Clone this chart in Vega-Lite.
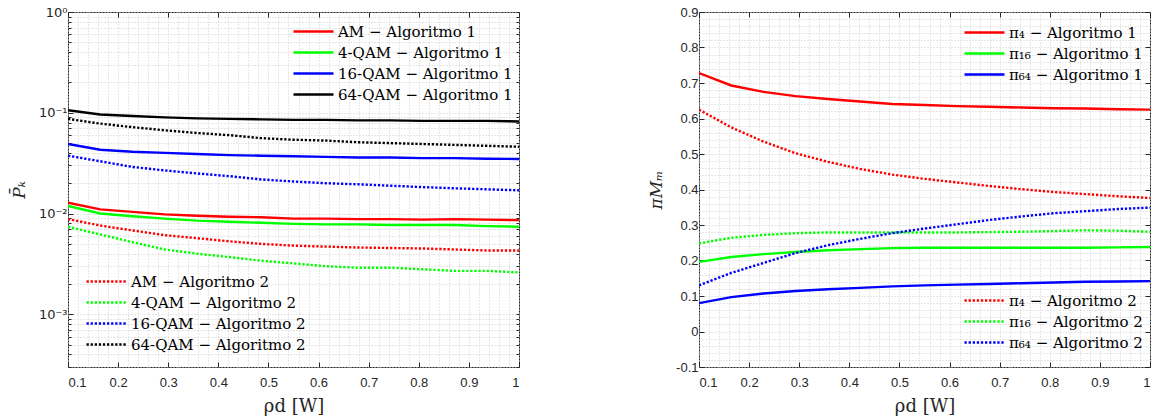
{
  "$schema": "https://vega.github.io/schema/vega-lite/v6.json",
  "background": "white",
  "padding": {"left": 9, "top": 5, "right": 0, "bottom": 5},
  "spacing": 127,
  "config": {
    "view": {"stroke": "#262626", "strokeWidth": 1},
    "axis": {
      "labelFont": "Liberation Sans", "labelFontSize": 13, "labelColor": "#262626",
      "titleFont": "DejaVu Serif", "titleFontSize": 17, "titleFontWeight": "normal", "titleColor": "#262626",
      "gridColor": "#cfcfcf", "gridDash": [1, 2], "gridWidth": 1,
      "tickColor": "#262626", "domainColor": "#262626"
    },
    "legend": {
      "labelFont": "DejaVu Serif", "labelFontSize": 15, "labelColor": "#000000", "labelLimit": 0,
      "symbolType": "M-5,0L5,0", "symbolSize": 64, "symbolStrokeWidth": 2.3,
      "symbolOffset": 16, "labelOffset": 17, "rowPadding": 5, "padding": 0, "title": null,
      "orient": "none"
    }
  },
  "datasets": {
    "pk": [
      {"x": 0.1, "y": 0.0128, "alg": 1, "label": "AM − Algoritmo 1"},
      {"x": 0.1643, "y": 0.0110, "alg": 1, "label": "AM − Algoritmo 1"},
      {"x": 0.2286, "y": 0.0104, "alg": 1, "label": "AM − Algoritmo 1"},
      {"x": 0.2929, "y": 0.0098, "alg": 1, "label": "AM − Algoritmo 1"},
      {"x": 0.3571, "y": 0.0095, "alg": 1, "label": "AM − Algoritmo 1"},
      {"x": 0.4214, "y": 0.0093, "alg": 1, "label": "AM − Algoritmo 1"},
      {"x": 0.4857, "y": 0.0092, "alg": 1, "label": "AM − Algoritmo 1"},
      {"x": 0.55, "y": 0.0089, "alg": 1, "label": "AM − Algoritmo 1"},
      {"x": 0.6143, "y": 0.0089, "alg": 1, "label": "AM − Algoritmo 1"},
      {"x": 0.6786, "y": 0.0088, "alg": 1, "label": "AM − Algoritmo 1"},
      {"x": 0.7429, "y": 0.0088, "alg": 1, "label": "AM − Algoritmo 1"},
      {"x": 0.8071, "y": 0.0087, "alg": 1, "label": "AM − Algoritmo 1"},
      {"x": 0.8714, "y": 0.0088, "alg": 1, "label": "AM − Algoritmo 1"},
      {"x": 0.9357, "y": 0.0087, "alg": 1, "label": "AM − Algoritmo 1"},
      {"x": 1.0, "y": 0.0086, "alg": 1, "label": "AM − Algoritmo 1"},

      {"x": 0.1, "y": 0.0119, "alg": 1, "label": "4-QAM − Algoritmo 1"},
      {"x": 0.1643, "y": 0.0100, "alg": 1, "label": "4-QAM − Algoritmo 1"},
      {"x": 0.2286, "y": 0.0094, "alg": 1, "label": "4-QAM − Algoritmo 1"},
      {"x": 0.2929, "y": 0.0089, "alg": 1, "label": "4-QAM − Algoritmo 1"},
      {"x": 0.3571, "y": 0.0085, "alg": 1, "label": "4-QAM − Algoritmo 1"},
      {"x": 0.4214, "y": 0.0083, "alg": 1, "label": "4-QAM − Algoritmo 1"},
      {"x": 0.4857, "y": 0.0081, "alg": 1, "label": "4-QAM − Algoritmo 1"},
      {"x": 0.55, "y": 0.0079, "alg": 1, "label": "4-QAM − Algoritmo 1"},
      {"x": 0.6143, "y": 0.0078, "alg": 1, "label": "4-QAM − Algoritmo 1"},
      {"x": 0.6786, "y": 0.0078, "alg": 1, "label": "4-QAM − Algoritmo 1"},
      {"x": 0.7429, "y": 0.0077, "alg": 1, "label": "4-QAM − Algoritmo 1"},
      {"x": 0.8071, "y": 0.0077, "alg": 1, "label": "4-QAM − Algoritmo 1"},
      {"x": 0.8714, "y": 0.0077, "alg": 1, "label": "4-QAM − Algoritmo 1"},
      {"x": 0.9357, "y": 0.0075, "alg": 1, "label": "4-QAM − Algoritmo 1"},
      {"x": 1.0, "y": 0.0074, "alg": 1, "label": "4-QAM − Algoritmo 1"},

      {"x": 0.1, "y": 0.049, "alg": 1, "label": "16-QAM − Algoritmo 1"},
      {"x": 0.1643, "y": 0.043, "alg": 1, "label": "16-QAM − Algoritmo 1"},
      {"x": 0.2286, "y": 0.041, "alg": 1, "label": "16-QAM − Algoritmo 1"},
      {"x": 0.2929, "y": 0.040, "alg": 1, "label": "16-QAM − Algoritmo 1"},
      {"x": 0.3571, "y": 0.039, "alg": 1, "label": "16-QAM − Algoritmo 1"},
      {"x": 0.4214, "y": 0.038, "alg": 1, "label": "16-QAM − Algoritmo 1"},
      {"x": 0.4857, "y": 0.0375, "alg": 1, "label": "16-QAM − Algoritmo 1"},
      {"x": 0.55, "y": 0.037, "alg": 1, "label": "16-QAM − Algoritmo 1"},
      {"x": 0.6143, "y": 0.0365, "alg": 1, "label": "16-QAM − Algoritmo 1"},
      {"x": 0.6786, "y": 0.036, "alg": 1, "label": "16-QAM − Algoritmo 1"},
      {"x": 0.7429, "y": 0.036, "alg": 1, "label": "16-QAM − Algoritmo 1"},
      {"x": 0.8071, "y": 0.0355, "alg": 1, "label": "16-QAM − Algoritmo 1"},
      {"x": 0.8714, "y": 0.0355, "alg": 1, "label": "16-QAM − Algoritmo 1"},
      {"x": 0.9357, "y": 0.035, "alg": 1, "label": "16-QAM − Algoritmo 1"},
      {"x": 1.0, "y": 0.0348, "alg": 1, "label": "16-QAM − Algoritmo 1"},

      {"x": 0.1, "y": 0.106, "alg": 1, "label": "64-QAM − Algoritmo 1"},
      {"x": 0.1643, "y": 0.096, "alg": 1, "label": "64-QAM − Algoritmo 1"},
      {"x": 0.2286, "y": 0.093, "alg": 1, "label": "64-QAM − Algoritmo 1"},
      {"x": 0.2929, "y": 0.090, "alg": 1, "label": "64-QAM − Algoritmo 1"},
      {"x": 0.3571, "y": 0.088, "alg": 1, "label": "64-QAM − Algoritmo 1"},
      {"x": 0.4214, "y": 0.087, "alg": 1, "label": "64-QAM − Algoritmo 1"},
      {"x": 0.4857, "y": 0.086, "alg": 1, "label": "64-QAM − Algoritmo 1"},
      {"x": 0.55, "y": 0.085, "alg": 1, "label": "64-QAM − Algoritmo 1"},
      {"x": 0.6143, "y": 0.085, "alg": 1, "label": "64-QAM − Algoritmo 1"},
      {"x": 0.6786, "y": 0.084, "alg": 1, "label": "64-QAM − Algoritmo 1"},
      {"x": 0.7429, "y": 0.084, "alg": 1, "label": "64-QAM − Algoritmo 1"},
      {"x": 0.8071, "y": 0.083, "alg": 1, "label": "64-QAM − Algoritmo 1"},
      {"x": 0.8714, "y": 0.083, "alg": 1, "label": "64-QAM − Algoritmo 1"},
      {"x": 0.9357, "y": 0.083, "alg": 1, "label": "64-QAM − Algoritmo 1"},
      {"x": 1.0, "y": 0.082, "alg": 1, "label": "64-QAM − Algoritmo 1"},

      {"x": 0.1, "y": 0.0088, "alg": 2, "label": "AM − Algoritmo 2"},
      {"x": 0.1643, "y": 0.0076, "alg": 2, "label": "AM − Algoritmo 2"},
      {"x": 0.2286, "y": 0.0068, "alg": 2, "label": "AM − Algoritmo 2"},
      {"x": 0.2929, "y": 0.0061, "alg": 2, "label": "AM − Algoritmo 2"},
      {"x": 0.3571, "y": 0.0057, "alg": 2, "label": "AM − Algoritmo 2"},
      {"x": 0.4214, "y": 0.0053, "alg": 2, "label": "AM − Algoritmo 2"},
      {"x": 0.4857, "y": 0.0050, "alg": 2, "label": "AM − Algoritmo 2"},
      {"x": 0.55, "y": 0.0048, "alg": 2, "label": "AM − Algoritmo 2"},
      {"x": 0.6143, "y": 0.0047, "alg": 2, "label": "AM − Algoritmo 2"},
      {"x": 0.6786, "y": 0.0046, "alg": 2, "label": "AM − Algoritmo 2"},
      {"x": 0.7429, "y": 0.00455, "alg": 2, "label": "AM − Algoritmo 2"},
      {"x": 0.8071, "y": 0.0045, "alg": 2, "label": "AM − Algoritmo 2"},
      {"x": 0.8714, "y": 0.0044, "alg": 2, "label": "AM − Algoritmo 2"},
      {"x": 0.9357, "y": 0.0043, "alg": 2, "label": "AM − Algoritmo 2"},
      {"x": 1.0, "y": 0.0043, "alg": 2, "label": "AM − Algoritmo 2"},

      {"x": 0.1, "y": 0.0074, "alg": 2, "label": "4-QAM − Algoritmo 2"},
      {"x": 0.1643, "y": 0.0062, "alg": 2, "label": "4-QAM − Algoritmo 2"},
      {"x": 0.2286, "y": 0.0052, "alg": 2, "label": "4-QAM − Algoritmo 2"},
      {"x": 0.2929, "y": 0.0044, "alg": 2, "label": "4-QAM − Algoritmo 2"},
      {"x": 0.3571, "y": 0.0040, "alg": 2, "label": "4-QAM − Algoritmo 2"},
      {"x": 0.4214, "y": 0.0037, "alg": 2, "label": "4-QAM − Algoritmo 2"},
      {"x": 0.4857, "y": 0.0034, "alg": 2, "label": "4-QAM − Algoritmo 2"},
      {"x": 0.55, "y": 0.0032, "alg": 2, "label": "4-QAM − Algoritmo 2"},
      {"x": 0.6143, "y": 0.0030, "alg": 2, "label": "4-QAM − Algoritmo 2"},
      {"x": 0.6786, "y": 0.0029, "alg": 2, "label": "4-QAM − Algoritmo 2"},
      {"x": 0.7429, "y": 0.0029, "alg": 2, "label": "4-QAM − Algoritmo 2"},
      {"x": 0.8071, "y": 0.0028, "alg": 2, "label": "4-QAM − Algoritmo 2"},
      {"x": 0.8714, "y": 0.0027, "alg": 2, "label": "4-QAM − Algoritmo 2"},
      {"x": 0.9357, "y": 0.0027, "alg": 2, "label": "4-QAM − Algoritmo 2"},
      {"x": 1.0, "y": 0.0026, "alg": 2, "label": "4-QAM − Algoritmo 2"},

      {"x": 0.1, "y": 0.0375, "alg": 2, "label": "16-QAM − Algoritmo 2"},
      {"x": 0.1643, "y": 0.033, "alg": 2, "label": "16-QAM − Algoritmo 2"},
      {"x": 0.2286, "y": 0.029, "alg": 2, "label": "16-QAM − Algoritmo 2"},
      {"x": 0.2929, "y": 0.0268, "alg": 2, "label": "16-QAM − Algoritmo 2"},
      {"x": 0.3571, "y": 0.025, "alg": 2, "label": "16-QAM − Algoritmo 2"},
      {"x": 0.4214, "y": 0.0235, "alg": 2, "label": "16-QAM − Algoritmo 2"},
      {"x": 0.4857, "y": 0.0218, "alg": 2, "label": "16-QAM − Algoritmo 2"},
      {"x": 0.55, "y": 0.0208, "alg": 2, "label": "16-QAM − Algoritmo 2"},
      {"x": 0.6143, "y": 0.020, "alg": 2, "label": "16-QAM − Algoritmo 2"},
      {"x": 0.6786, "y": 0.0195, "alg": 2, "label": "16-QAM − Algoritmo 2"},
      {"x": 0.7429, "y": 0.0189, "alg": 2, "label": "16-QAM − Algoritmo 2"},
      {"x": 0.8071, "y": 0.0183, "alg": 2, "label": "16-QAM − Algoritmo 2"},
      {"x": 0.8714, "y": 0.0178, "alg": 2, "label": "16-QAM − Algoritmo 2"},
      {"x": 0.9357, "y": 0.0174, "alg": 2, "label": "16-QAM − Algoritmo 2"},
      {"x": 1.0, "y": 0.0170, "alg": 2, "label": "16-QAM − Algoritmo 2"},

      {"x": 0.1, "y": 0.087, "alg": 2, "label": "64-QAM − Algoritmo 2"},
      {"x": 0.1643, "y": 0.078, "alg": 2, "label": "64-QAM − Algoritmo 2"},
      {"x": 0.2286, "y": 0.072, "alg": 2, "label": "64-QAM − Algoritmo 2"},
      {"x": 0.2929, "y": 0.067, "alg": 2, "label": "64-QAM − Algoritmo 2"},
      {"x": 0.3571, "y": 0.063, "alg": 2, "label": "64-QAM − Algoritmo 2"},
      {"x": 0.4214, "y": 0.060, "alg": 2, "label": "64-QAM − Algoritmo 2"},
      {"x": 0.4857, "y": 0.056, "alg": 2, "label": "64-QAM − Algoritmo 2"},
      {"x": 0.55, "y": 0.054, "alg": 2, "label": "64-QAM − Algoritmo 2"},
      {"x": 0.6143, "y": 0.053, "alg": 2, "label": "64-QAM − Algoritmo 2"},
      {"x": 0.6786, "y": 0.051, "alg": 2, "label": "64-QAM − Algoritmo 2"},
      {"x": 0.7429, "y": 0.050, "alg": 2, "label": "64-QAM − Algoritmo 2"},
      {"x": 0.8071, "y": 0.049, "alg": 2, "label": "64-QAM − Algoritmo 2"},
      {"x": 0.8714, "y": 0.048, "alg": 2, "label": "64-QAM − Algoritmo 2"},
      {"x": 0.9357, "y": 0.047, "alg": 2, "label": "64-QAM − Algoritmo 2"},
      {"x": 1.0, "y": 0.046, "alg": 2, "label": "64-QAM − Algoritmo 2"}
    ],
    "pi": [
      {"x": 0.1, "y": 0.728, "alg": 1, "label": "π₄ − Algoritmo 1"},
      {"x": 0.1643, "y": 0.693, "alg": 1, "label": "π₄ − Algoritmo 1"},
      {"x": 0.2286, "y": 0.675, "alg": 1, "label": "π₄ − Algoritmo 1"},
      {"x": 0.2929, "y": 0.663, "alg": 1, "label": "π₄ − Algoritmo 1"},
      {"x": 0.3571, "y": 0.655, "alg": 1, "label": "π₄ − Algoritmo 1"},
      {"x": 0.4214, "y": 0.648, "alg": 1, "label": "π₄ − Algoritmo 1"},
      {"x": 0.4857, "y": 0.641, "alg": 1, "label": "π₄ − Algoritmo 1"},
      {"x": 0.55, "y": 0.638, "alg": 1, "label": "π₄ − Algoritmo 1"},
      {"x": 0.6143, "y": 0.635, "alg": 1, "label": "π₄ − Algoritmo 1"},
      {"x": 0.6786, "y": 0.633, "alg": 1, "label": "π₄ − Algoritmo 1"},
      {"x": 0.7429, "y": 0.631, "alg": 1, "label": "π₄ − Algoritmo 1"},
      {"x": 0.8071, "y": 0.629, "alg": 1, "label": "π₄ − Algoritmo 1"},
      {"x": 0.8714, "y": 0.628, "alg": 1, "label": "π₄ − Algoritmo 1"},
      {"x": 0.9357, "y": 0.626, "alg": 1, "label": "π₄ − Algoritmo 1"},
      {"x": 1.0, "y": 0.625, "alg": 1, "label": "π₄ − Algoritmo 1"},

      {"x": 0.1, "y": 0.196, "alg": 1, "label": "π₁₆ − Algoritmo 1"},
      {"x": 0.1643, "y": 0.210, "alg": 1, "label": "π₁₆ − Algoritmo 1"},
      {"x": 0.2286, "y": 0.218, "alg": 1, "label": "π₁₆ − Algoritmo 1"},
      {"x": 0.2929, "y": 0.224, "alg": 1, "label": "π₁₆ − Algoritmo 1"},
      {"x": 0.3571, "y": 0.229, "alg": 1, "label": "π₁₆ − Algoritmo 1"},
      {"x": 0.4214, "y": 0.232, "alg": 1, "label": "π₁₆ − Algoritmo 1"},
      {"x": 0.4857, "y": 0.235, "alg": 1, "label": "π₁₆ − Algoritmo 1"},
      {"x": 0.55, "y": 0.236, "alg": 1, "label": "π₁₆ − Algoritmo 1"},
      {"x": 0.6143, "y": 0.236, "alg": 1, "label": "π₁₆ − Algoritmo 1"},
      {"x": 0.6786, "y": 0.236, "alg": 1, "label": "π₁₆ − Algoritmo 1"},
      {"x": 0.7429, "y": 0.236, "alg": 1, "label": "π₁₆ − Algoritmo 1"},
      {"x": 0.8071, "y": 0.236, "alg": 1, "label": "π₁₆ − Algoritmo 1"},
      {"x": 0.8714, "y": 0.236, "alg": 1, "label": "π₁₆ − Algoritmo 1"},
      {"x": 0.9357, "y": 0.237, "alg": 1, "label": "π₁₆ − Algoritmo 1"},
      {"x": 1.0, "y": 0.238, "alg": 1, "label": "π₁₆ − Algoritmo 1"},

      {"x": 0.1, "y": 0.080, "alg": 1, "label": "π₆₄ − Algoritmo 1"},
      {"x": 0.1643, "y": 0.097, "alg": 1, "label": "π₆₄ − Algoritmo 1"},
      {"x": 0.2286, "y": 0.107, "alg": 1, "label": "π₆₄ − Algoritmo 1"},
      {"x": 0.2929, "y": 0.114, "alg": 1, "label": "π₆₄ − Algoritmo 1"},
      {"x": 0.3571, "y": 0.119, "alg": 1, "label": "π₆₄ − Algoritmo 1"},
      {"x": 0.4214, "y": 0.123, "alg": 1, "label": "π₆₄ − Algoritmo 1"},
      {"x": 0.4857, "y": 0.127, "alg": 1, "label": "π₆₄ − Algoritmo 1"},
      {"x": 0.55, "y": 0.130, "alg": 1, "label": "π₆₄ − Algoritmo 1"},
      {"x": 0.6143, "y": 0.132, "alg": 1, "label": "π₆₄ − Algoritmo 1"},
      {"x": 0.6786, "y": 0.134, "alg": 1, "label": "π₆₄ − Algoritmo 1"},
      {"x": 0.7429, "y": 0.136, "alg": 1, "label": "π₆₄ − Algoritmo 1"},
      {"x": 0.8071, "y": 0.138, "alg": 1, "label": "π₆₄ − Algoritmo 1"},
      {"x": 0.8714, "y": 0.140, "alg": 1, "label": "π₆₄ − Algoritmo 1"},
      {"x": 0.9357, "y": 0.141, "alg": 1, "label": "π₆₄ − Algoritmo 1"},
      {"x": 1.0, "y": 0.142, "alg": 1, "label": "π₆₄ − Algoritmo 1"},

      {"x": 0.1, "y": 0.625, "alg": 2, "label": "π₄ − Algoritmo 2"},
      {"x": 0.1643, "y": 0.575, "alg": 2, "label": "π₄ − Algoritmo 2"},
      {"x": 0.2286, "y": 0.535, "alg": 2, "label": "π₄ − Algoritmo 2"},
      {"x": 0.2929, "y": 0.502, "alg": 2, "label": "π₄ − Algoritmo 2"},
      {"x": 0.3571, "y": 0.478, "alg": 2, "label": "π₄ − Algoritmo 2"},
      {"x": 0.4214, "y": 0.458, "alg": 2, "label": "π₄ − Algoritmo 2"},
      {"x": 0.4857, "y": 0.442, "alg": 2, "label": "π₄ − Algoritmo 2"},
      {"x": 0.55, "y": 0.430, "alg": 2, "label": "π₄ − Algoritmo 2"},
      {"x": 0.6143, "y": 0.420, "alg": 2, "label": "π₄ − Algoritmo 2"},
      {"x": 0.6786, "y": 0.410, "alg": 2, "label": "π₄ − Algoritmo 2"},
      {"x": 0.7429, "y": 0.401, "alg": 2, "label": "π₄ − Algoritmo 2"},
      {"x": 0.8071, "y": 0.393, "alg": 2, "label": "π₄ − Algoritmo 2"},
      {"x": 0.8714, "y": 0.387, "alg": 2, "label": "π₄ − Algoritmo 2"},
      {"x": 0.9357, "y": 0.381, "alg": 2, "label": "π₄ − Algoritmo 2"},
      {"x": 1.0, "y": 0.376, "alg": 2, "label": "π₄ − Algoritmo 2"},

      {"x": 0.1, "y": 0.248, "alg": 2, "label": "π₁₆ − Algoritmo 2"},
      {"x": 0.1643, "y": 0.264, "alg": 2, "label": "π₁₆ − Algoritmo 2"},
      {"x": 0.2286, "y": 0.272, "alg": 2, "label": "π₁₆ − Algoritmo 2"},
      {"x": 0.2929, "y": 0.277, "alg": 2, "label": "π₁₆ − Algoritmo 2"},
      {"x": 0.3571, "y": 0.279, "alg": 2, "label": "π₁₆ − Algoritmo 2"},
      {"x": 0.4214, "y": 0.279, "alg": 2, "label": "π₁₆ − Algoritmo 2"},
      {"x": 0.4857, "y": 0.279, "alg": 2, "label": "π₁₆ − Algoritmo 2"},
      {"x": 0.55, "y": 0.279, "alg": 2, "label": "π₁₆ − Algoritmo 2"},
      {"x": 0.6143, "y": 0.279, "alg": 2, "label": "π₁₆ − Algoritmo 2"},
      {"x": 0.6786, "y": 0.280, "alg": 2, "label": "π₁₆ − Algoritmo 2"},
      {"x": 0.7429, "y": 0.281, "alg": 2, "label": "π₁₆ − Algoritmo 2"},
      {"x": 0.8071, "y": 0.283, "alg": 2, "label": "π₁₆ − Algoritmo 2"},
      {"x": 0.8714, "y": 0.285, "alg": 2, "label": "π₁₆ − Algoritmo 2"},
      {"x": 0.9357, "y": 0.284, "alg": 2, "label": "π₁₆ − Algoritmo 2"},
      {"x": 1.0, "y": 0.281, "alg": 2, "label": "π₁₆ − Algoritmo 2"},

      {"x": 0.1, "y": 0.130, "alg": 2, "label": "π₆₄ − Algoritmo 2"},
      {"x": 0.1643, "y": 0.165, "alg": 2, "label": "π₆₄ − Algoritmo 2"},
      {"x": 0.2286, "y": 0.193, "alg": 2, "label": "π₆₄ − Algoritmo 2"},
      {"x": 0.2929, "y": 0.221, "alg": 2, "label": "π₆₄ − Algoritmo 2"},
      {"x": 0.3571, "y": 0.243, "alg": 2, "label": "π₆₄ − Algoritmo 2"},
      {"x": 0.4214, "y": 0.261, "alg": 2, "label": "π₆₄ − Algoritmo 2"},
      {"x": 0.4857, "y": 0.277, "alg": 2, "label": "π₆₄ − Algoritmo 2"},
      {"x": 0.55, "y": 0.290, "alg": 2, "label": "π₆₄ − Algoritmo 2"},
      {"x": 0.6143, "y": 0.302, "alg": 2, "label": "π₆₄ − Algoritmo 2"},
      {"x": 0.6786, "y": 0.314, "alg": 2, "label": "π₆₄ − Algoritmo 2"},
      {"x": 0.7429, "y": 0.324, "alg": 2, "label": "π₆₄ − Algoritmo 2"},
      {"x": 0.8071, "y": 0.333, "alg": 2, "label": "π₆₄ − Algoritmo 2"},
      {"x": 0.8714, "y": 0.339, "alg": 2, "label": "π₆₄ − Algoritmo 2"},
      {"x": 0.9357, "y": 0.345, "alg": 2, "label": "π₆₄ − Algoritmo 2"},
      {"x": 1.0, "y": 0.349, "alg": 2, "label": "π₆₄ − Algoritmo 2"}
    ]
  },
  "hconcat": [
    {
      "width": 451,
      "height": 355,
      "data": {"name": "pk"},
      "layer": [
        {
          "transform": [{"filter": "datum.alg == 1"}],
          "mark": {"type": "line", "strokeWidth": 2.4, "clip": true},
          "encoding": {
            "x": {"field": "x", "type": "quantitative", "scale": {"domain": [0.1, 1], "nice": false, "zero": false},
              "axis": {"orient": "bottom", "values": [0.1,0.12,0.14,0.16,0.18,0.2,0.22,0.24,0.26,0.28,0.3,0.32,0.34,0.36,0.38,0.4,0.42,0.44,0.46,0.48,0.5,0.52,0.54,0.56,0.58,0.6,0.62,0.64,0.66,0.68,0.7,0.72,0.74,0.76,0.78,0.8,0.82,0.84,0.86,0.88,0.9,0.92,0.94,0.96,0.98,1],
                "labels": false, "ticks": false, "domain": false, "grid": true, "title": null}},
            "y": {"field": "y", "type": "quantitative", "scale": {"type": "log", "domain": [0.0003, 1], "nice": false},
              "axis": {"orient": "left", "values": [0.0003,0.0004,0.0005,0.0006,0.0007,0.0008,0.0009,0.001,0.002,0.003,0.004,0.005,0.006,0.007,0.008,0.009,0.01,0.02,0.03,0.04,0.05,0.06,0.07,0.08,0.09,0.1,0.2,0.3,0.4,0.5,0.6,0.7,0.8,0.9,1],
                "labels": false, "ticks": true, "tickSize": -3, "domain": false, "grid": true, "title": null}},
            "color": {"field": "label", "type": "nominal",
              "scale": {"domain": ["AM − Algoritmo 1", "4-QAM − Algoritmo 1", "16-QAM − Algoritmo 1", "64-QAM − Algoritmo 1"], "range": ["#ff0000", "#00ff00", "#0000ff", "#000000"]},
              "legend": {"legendX": 222, "legendY": 12}}
          }
        },
        {
          "transform": [{"filter": "datum.alg == 2"}],
          "mark": {"type": "line", "strokeWidth": 2.4, "strokeDash": [2.3, 1.8], "clip": true},
          "encoding": {
            "x": {"field": "x", "type": "quantitative", "scale": {"domain": [0.1, 1], "nice": false, "zero": false},
              "axis": {"orient": "bottom", "values": [0.1,0.2,0.3,0.4,0.5,0.6,0.7,0.8,0.9,1], "labelExpr": "format(datum.value, '.1~f')",
                "ticks": true, "tickSize": -5, "labelPadding": 14, "domain": false, "grid": false, "title": "ρd [W]", "titleFontSize": 18, "titlePadding": 8}},
            "y": {"field": "y", "type": "quantitative", "scale": {"type": "log", "domain": [0.0003, 1], "nice": false},
              "axis": {"orient": "left", "values": [0.001, 0.01, 0.1, 1],
                "labelExpr": "datum.value >= 1 ? '10⁰' : datum.value >= 0.1 ? '10⁻¹' : datum.value >= 0.01 ? '10⁻²' : '10⁻³'",
                "labelFont": "DejaVu Sans",
                "ticks": true, "tickSize": -5, "labelPadding": 6, "domain": false, "grid": false, "title": "P̄ₖ", "titleFontStyle": "italic", "titlePadding": 10}},
            "color": {"field": "label", "type": "nominal",
              "scale": {"domain": ["AM − Algoritmo 2", "4-QAM − Algoritmo 2", "16-QAM − Algoritmo 2", "64-QAM − Algoritmo 2"], "range": ["#ff0000", "#00ff00", "#0000ff", "#000000"]},
              "legend": {"legendX": 15, "legendY": 262, "symbolDash": [2.3, 1.8]}}
          }
        },
        {
          "mark": {"type": "line", "opacity": 0},
          "encoding": {
            "x": {"field": "x", "type": "quantitative", "scale": {"domain": [0.1, 1], "nice": false, "zero": false},
              "axis": {"orient": "top", "values": [0.1,0.2,0.3,0.4,0.5,0.6,0.7,0.8,0.9,1], "labels": false, "ticks": true, "tickSize": -5, "domain": false, "grid": false, "title": null}},
            "y": {"field": "y", "type": "quantitative", "scale": {"type": "log", "domain": [0.0003, 1], "nice": false},
              "axis": {"orient": "right", "values": [0.0003,0.0004,0.0005,0.0006,0.0007,0.0008,0.0009,0.001,0.002,0.003,0.004,0.005,0.006,0.007,0.008,0.009,0.01,0.02,0.03,0.04,0.05,0.06,0.07,0.08,0.09,0.1,0.2,0.3,0.4,0.5,0.6,0.7,0.8,0.9,1],
                "labels": false, "ticks": true, "tickSize": -3, "domain": false, "grid": false, "title": null}},
            "detail": {"field": "label"}
          }
        }
      ],
      "resolve": {"scale": {"color": "independent"}, "axis": {"x": "independent", "y": "independent"}}
    },
    {
      "width": 451,
      "height": 355,
      "data": {"name": "pi"},
      "layer": [
        {
          "transform": [{"filter": "datum.alg == 1"}],
          "mark": {"type": "line", "strokeWidth": 2.4, "clip": true},
          "encoding": {
            "x": {"field": "x", "type": "quantitative", "scale": {"domain": [0.1, 1], "nice": false, "zero": false},
              "axis": {"orient": "bottom", "values": [0.1,0.12,0.14,0.16,0.18,0.2,0.22,0.24,0.26,0.28,0.3,0.32,0.34,0.36,0.38,0.4,0.42,0.44,0.46,0.48,0.5,0.52,0.54,0.56,0.58,0.6,0.62,0.64,0.66,0.68,0.7,0.72,0.74,0.76,0.78,0.8,0.82,0.84,0.86,0.88,0.9,0.92,0.94,0.96,0.98,1],
                "labels": false, "ticks": false, "domain": false, "grid": true, "title": null}},
            "y": {"field": "y", "type": "quantitative", "scale": {"domain": [-0.1, 0.9], "nice": false, "zero": false},
              "axis": {"orient": "left", "values": [-0.1,-0.08,-0.06,-0.04,-0.02,0,0.02,0.04,0.06,0.08,0.1,0.12,0.14,0.16,0.18,0.2,0.22,0.24,0.26,0.28,0.3,0.32,0.34,0.36,0.38,0.4,0.42,0.44,0.46,0.48,0.5,0.52,0.54,0.56,0.58,0.6,0.62,0.64,0.66,0.68,0.7,0.72,0.74,0.76,0.78,0.8,0.82,0.84,0.86,0.88,0.9],
                "labels": false, "ticks": false, "domain": false, "grid": true, "title": null}},
            "color": {"field": "label", "type": "nominal",
              "scale": {"domain": ["π₄ − Algoritmo 1", "π₁₆ − Algoritmo 1", "π₆₄ − Algoritmo 1"], "range": ["#ff0000", "#00ff00", "#0000ff"]},
              "legend": {"legendX": 262, "legendY": 13}}
          }
        },
        {
          "transform": [{"filter": "datum.alg == 2"}],
          "mark": {"type": "line", "strokeWidth": 2.4, "strokeDash": [2.3, 1.8], "clip": true},
          "encoding": {
            "x": {"field": "x", "type": "quantitative", "scale": {"domain": [0.1, 1], "nice": false, "zero": false},
              "axis": {"orient": "bottom", "values": [0.1,0.2,0.3,0.4,0.5,0.6,0.7,0.8,0.9,1], "labelExpr": "format(datum.value, '.1~f')",
                "ticks": true, "tickSize": -5, "labelPadding": 14, "domain": false, "grid": false, "title": "ρd [W]", "titleFontSize": 18, "titlePadding": 8}},
            "y": {"field": "y", "type": "quantitative", "scale": {"domain": [-0.1, 0.9], "nice": false, "zero": false},
              "axis": {"orient": "left", "values": [-0.1,0,0.1,0.2,0.3,0.4,0.5,0.6,0.7,0.8,0.9],
                "labelExpr": "datum.value == 0 ? '0' : replace(format(datum.value, '.1f'), '−', '-')",
                "ticks": true, "tickSize": -5, "labelPadding": 6, "domain": false, "grid": false, "title": "πMₘ", "titleFontStyle": "italic", "titlePadding": 10}},
            "color": {"field": "label", "type": "nominal",
              "scale": {"domain": ["π₄ − Algoritmo 2", "π₁₆ − Algoritmo 2", "π₆₄ − Algoritmo 2"], "range": ["#ff0000", "#00ff00", "#0000ff"]},
              "legend": {"legendX": 262, "legendY": 281, "symbolDash": [2.3, 1.8]}}
          }
        },
        {
          "mark": {"type": "line", "opacity": 0},
          "encoding": {
            "x": {"field": "x", "type": "quantitative", "scale": {"domain": [0.1, 1], "nice": false, "zero": false},
              "axis": {"orient": "top", "values": [0.1,0.2,0.3,0.4,0.5,0.6,0.7,0.8,0.9,1], "labels": false, "ticks": true, "tickSize": -5, "domain": false, "grid": false, "title": null}},
            "y": {"field": "y", "type": "quantitative", "scale": {"domain": [-0.1, 0.9], "nice": false, "zero": false},
              "axis": {"orient": "right", "values": [-0.1,0,0.1,0.2,0.3,0.4,0.5,0.6,0.7,0.8,0.9], "labels": false, "ticks": true, "tickSize": -5, "domain": false, "grid": false, "title": null}},
            "detail": {"field": "label"}
          }
        }
      ],
      "resolve": {"scale": {"color": "independent"}, "axis": {"x": "independent", "y": "independent"}}
    }
  ]
}
